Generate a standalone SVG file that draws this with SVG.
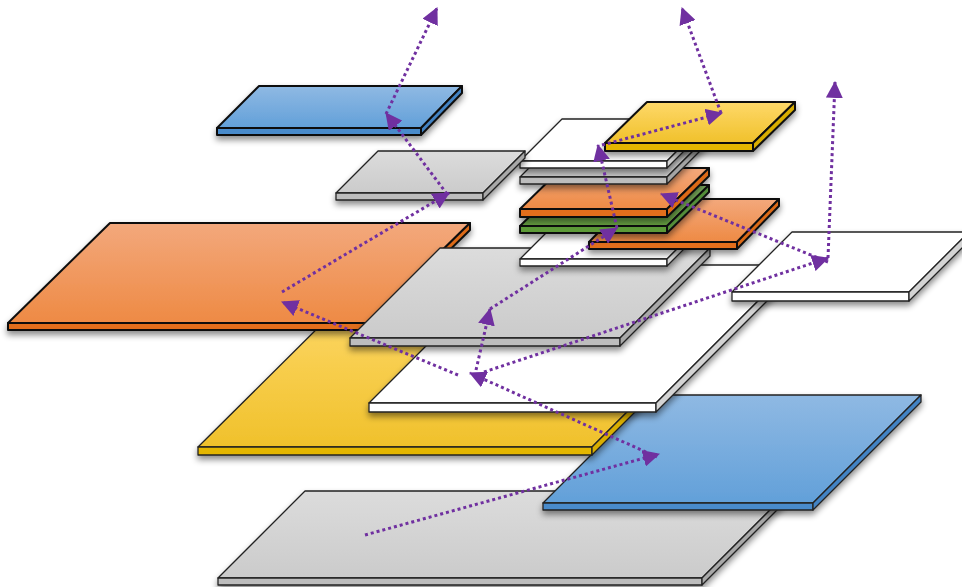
<svg xmlns="http://www.w3.org/2000/svg" width="962" height="587" viewBox="0 0 962 587">
<defs>
<style>
.k{stroke:#111;stroke-width:2;stroke-linejoin:round}
.n{stroke:#222;stroke-width:1.3;stroke-linejoin:round}
.a{fill:none;stroke:#7030A0;stroke-width:3;stroke-dasharray:3 3;marker-end:url(#ah)}
.slab{filter:url(#sh)}
</style>
<linearGradient id="gB" x1="0" y1="0" x2="0" y2="1"><stop offset="0" stop-color="#8FB9E3"/><stop offset="1" stop-color="#62A0D9"/></linearGradient>
<linearGradient id="gO" x1="0" y1="0" x2="0" y2="1"><stop offset="0" stop-color="#F3A87C"/><stop offset="1" stop-color="#EE8A44"/></linearGradient>
<linearGradient id="gY" x1="0" y1="0" x2="0" y2="1"><stop offset="0" stop-color="#FED869"/><stop offset="1" stop-color="#F0C12B"/></linearGradient>
<linearGradient id="gG" x1="0" y1="0" x2="0" y2="1"><stop offset="0" stop-color="#DCDCDC"/><stop offset="1" stop-color="#CBCBCB"/></linearGradient>
<linearGradient id="gN" x1="0" y1="0" x2="0" y2="1"><stop offset="0" stop-color="#8BC06A"/><stop offset="1" stop-color="#65A040"/></linearGradient>
<filter id="sh" x="-10%" y="-10%" width="125%" height="150%"><feDropShadow dx="0" dy="4" stdDeviation="3" flood-color="#000" flood-opacity="0.45"/></filter>
<marker id="ah" viewBox="0 0 16 16" refX="15" refY="8" markerWidth="17" markerHeight="17" markerUnits="userSpaceOnUse" orient="auto"><path d="M0,0 L16,8 L0,16 z" fill="#7030A0"/></marker>
</defs>

<g id="gray-bottom" class="slab n">
<polygon points="305,491 789,491 702,578 218,578" fill="url(#gG)"/>
<rect x="218" y="578" width="484" height="7" fill="#BDBDBD"/>
<polygon points="702,578 789,491 789,498 702,585" fill="#A8A8A8"/>
</g>
<g id="blue-lower" class="slab n">
<polygon points="651,395 921,395 813,503 543,503" fill="url(#gB)"/>
<rect x="543" y="503" width="270" height="7" fill="#4A8BCB"/>
<polygon points="813,503 921,395 921,402 813,510" fill="#4383C4"/>
</g>
<g id="yellow-large" class="slab n">
<polygon points="346,300 739,300 592,447 198,447" fill="url(#gY)"/>
<rect x="198" y="447" width="394" height="8" fill="#E4B600"/>
<polygon points="592,447 739,300 739,308 592,455" fill="#D9AE00"/>
</g>
<g id="orange-large" class="slab k">
<polygon points="110,223 470,223 368,323 8,323" fill="url(#gO)"/>
<rect x="8" y="323" width="360" height="7" fill="#E26E1A"/>
<polygon points="368,323 470,223 470,230 368,330" fill="#DD6A18"/>
</g>
<g id="white-large" class="slab n">
<polygon points="507,265 794,265 656,403 369,403" fill="#FFFFFF"/>
<rect x="369" y="403" width="287" height="9" fill="#FFFFFF"/>
<polygon points="656,403 794,265 794,274 656,412" fill="#D4D4D4"/>
</g>
<g id="gray-mid" class="slab n">
<polygon points="440,248 710,248 620,338 350,338" fill="url(#gG)"/>
<rect x="350" y="338" width="270" height="8" fill="#BDBDBD"/>
<polygon points="620,338 710,248 710,256 620,346" fill="#A8A8A8"/>
</g>
<g id="white-right" class="slab n">
<polygon points="792,232 969,232 909,292 732,292" fill="#FFFFFF"/>
<rect x="732" y="292" width="177" height="9" fill="#FFFFFF"/>
<polygon points="909,292 969,232 969,241 909,301" fill="#D4D4D4"/>
</g>
<g id="white-stack-bottom" class="slab n">
<polygon points="562,217 709,217 667,259 520,259" fill="#FFFFFF"/>
<rect x="520" y="259" width="147" height="7" fill="#FFFFFF"/>
<polygon points="667,259 709,217 709,224 667,266" fill="#D4D4D4"/>
</g>
<g id="orange-right" class="slab k">
<polygon points="631,199 779,199 737,242 589,242" fill="url(#gO)"/>
<rect x="589" y="242" width="148" height="7" fill="#E26E1A"/>
<polygon points="737,242 779,199 779,206 737,249" fill="#DD6A18"/>
</g>
<g id="green" class="slab k">
<polygon points="562,185 709,185 667,226 520,226" fill="url(#gN)"/>
<rect x="520" y="226" width="147" height="7" fill="#5D9B38"/>
<polygon points="667,226 709,185 709,192 667,233" fill="#55913A"/>
</g>
<g id="orange-stack" class="slab k">
<polygon points="562,168 709,168 667,209 520,209" fill="url(#gO)"/>
<rect x="520" y="209" width="147" height="8" fill="#E26E1A"/>
<polygon points="667,209 709,168 709,176 667,217" fill="#DD6A18"/>
</g>
<g id="gray-thin" class="slab n">
<polygon points="562,135 709,135 667,177 520,177" fill="url(#gG)"/>
<rect x="520" y="177" width="147" height="7" fill="#BDBDBD"/>
<polygon points="667,177 709,135 709,142 667,184" fill="#A8A8A8"/>
</g>
<g id="white-top" class="slab n">
<polygon points="562,119 709,119 667,161 520,161" fill="#FFFFFF"/>
<rect x="520" y="161" width="147" height="7" fill="#FFFFFF"/>
<polygon points="667,161 709,119 709,126 667,168" fill="#D4D4D4"/>
</g>
<g id="yellow-top" class="slab k">
<polygon points="647,102 795,102 753,143 605,143" fill="url(#gY)"/>
<rect x="605" y="143" width="148" height="8" fill="#E4B600"/>
<polygon points="753,143 795,102 795,110 753,151" fill="#D9AE00"/>
</g>
<g id="gray-small" class="slab n">
<polygon points="378,151 525,151 483,193 336,193" fill="url(#gG)"/>
<rect x="336" y="193" width="147" height="7" fill="#BDBDBD"/>
<polygon points="483,193 525,151 525,158 483,200" fill="#A8A8A8"/>
</g>
<g id="blue-top" class="slab k">
<polygon points="259,86 462,86 421,128 217,128" fill="url(#gB)"/>
<rect x="217" y="128" width="204" height="7" fill="#4A8BCB"/>
<polygon points="421,128 462,86 462,93 421,135" fill="#4383C4"/>
</g>

<g id="connectors">
<line class="a" x1="365" y1="535" x2="659" y2="454"/>
<line class="a" x1="657" y1="457" x2="470" y2="373"/>
<line class="a" x1="458" y1="375" x2="282" y2="302"/>
<line class="a" x1="282" y1="292" x2="449" y2="193"/>
<line class="a" x1="447" y1="194" x2="386" y2="113"/>
<line class="a" x1="386" y1="114" x2="437" y2="8"/>
<line class="a" x1="476" y1="370" x2="490" y2="309"/>
<line class="a" x1="490" y1="309" x2="617" y2="228"/>
<line class="a" x1="617" y1="228" x2="598" y2="145"/>
<line class="a" x1="602" y1="145" x2="722" y2="113"/>
<line class="a" x1="721" y1="113" x2="682" y2="8"/>
<line class="a" x1="484" y1="372" x2="828" y2="258"/>
<line class="a" x1="828" y1="258" x2="835" y2="82"/>
<line class="a" x1="828" y1="262" x2="661" y2="194"/>
</g>
</svg>
